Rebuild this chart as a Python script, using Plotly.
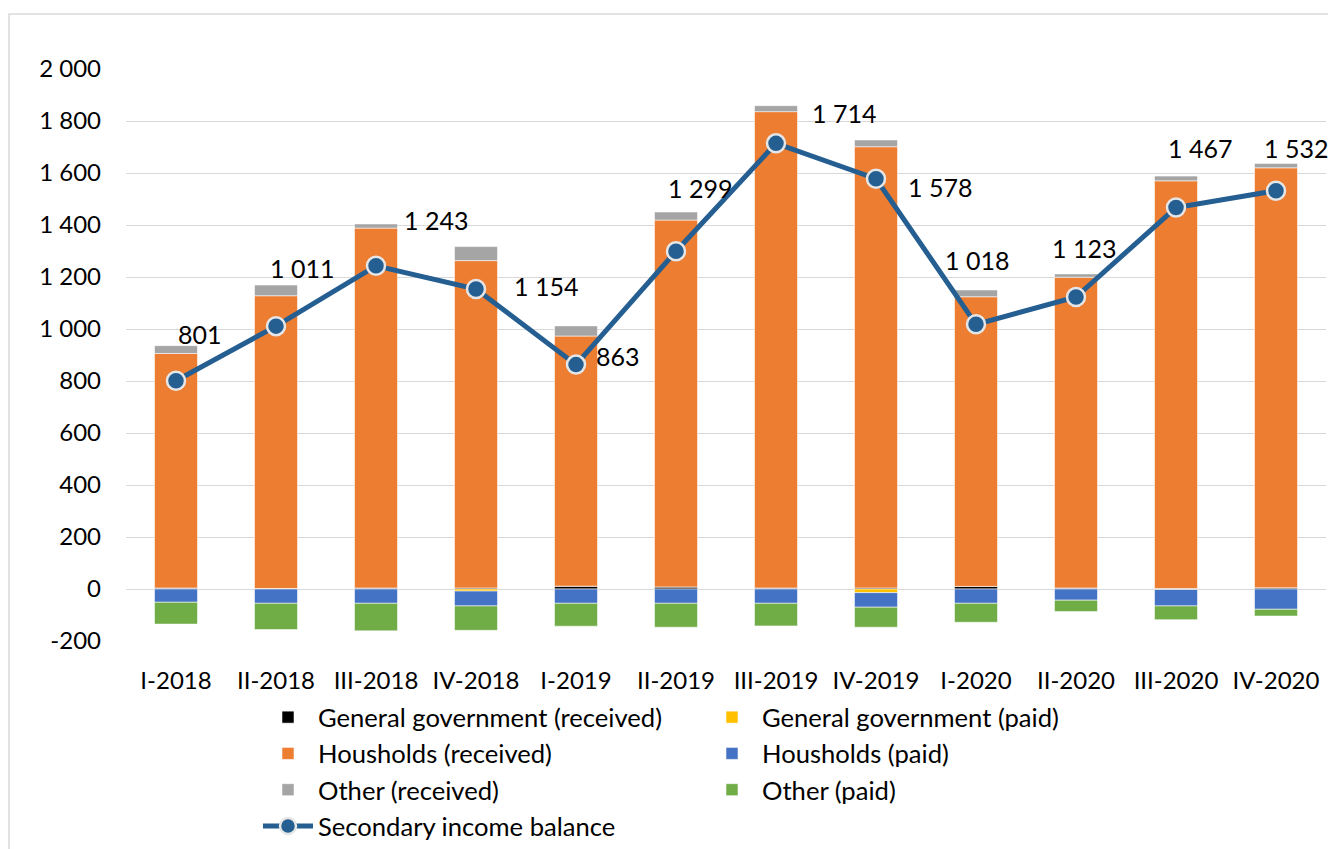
import plotly.graph_objects as go

quarters = ["I-2018", "II-2018", "III-2018", "IV-2018",
            "I-2019", "II-2019", "III-2019", "IV-2019",
            "I-2020", "II-2020", "III-2020", "IV-2020"]

gg_received = [4, 2, 4, 4, 11, 8, 4, 4, 10, 4, 2, 5]
gg_paid = [0, 0, 0, -8, 0, 0, 0, -14, 0, 0, -2, 0]
hh_received = [902, 1126, 1384, 1259, 962, 1411, 1832, 1697, 1114, 1195, 1568, 1615]
hh_paid = [-51, -55, -55, -57, -55, -55, -55, -56, -55, -43, -63, -78]
other_received = [30, 41, 16, 54, 39, 31, 23, 26, 26, 13, 18, 17]
other_paid = [-84, -101, -106, -94, -88, -92, -87, -77, -73, -44, -53, -26]
balance = [801, 1011, 1243, 1154, 863, 1299, 1714, 1578, 1018, 1123, 1467, 1532]
balance_labels = ["801", "1 011", "1 243", "1 154", "863", "1 299",
                  "1 714", "1 578", "1 018", "1 123", "1 467", "1 532"]

y_ticks = [-200, 0, 200, 400, 600, 800, 1000, 1200, 1400, 1600, 1800, 2000]
y_tick_text = ["-200", "0", "200", "400", "600", "800", "1 000",
               "1 200", "1 400", "1 600", "1 800", "2 000"]

# label offsets (px) for balance data labels
label_shift = [(24, -47), (26, -58), (60, -46), (70, -3), (42, -9), (24, -63),
               (68, -30), (64, 8), (1, -64), (8, -49), (24, -60), (20, -43)]

FONT = "Lato"
bar_line = dict(color="rgba(255,255,255,0.55)", width=1)

fig = go.Figure()
series = [
    ("General government (received)", gg_received, "#000000"),
    ("General government (paid)", gg_paid, "#FFC000"),
    ("Housholds (received)", hh_received, "#ED7D31"),
    ("Housholds (paid)", hh_paid, "#4472C4"),
    ("Other (received)", other_received, "#A5A5A5"),
    ("Other (paid)", other_paid, "#70AD47"),
]
for name, vals, col in series:
    fig.add_trace(go.Bar(x=quarters, y=vals, name=name,
                         marker=dict(color=col, line=bar_line)))

fig.add_trace(go.Scatter(
    x=quarters, y=balance, name="Secondary income balance",
    mode="lines+markers",
    line=dict(color="#255E91", width=5),
    marker=dict(size=18, color="#255E91", line=dict(color="#E6E6E6", width=2.5)),
))

for q, v, t, (dx, dy) in zip(quarters, balance, balance_labels, label_shift):
    fig.add_annotation(x=q, y=v, text=t, showarrow=False,
                       xshift=dx, yshift=-dy,
                       font=dict(family=FONT, size=25, color="#000000"))

# page body has an 8px margin; layout coordinates below are offset for it
W, H = 1328, 841
L, T, PW, PH = 118, 61, 1200, 572

# outer chart frame
fig.add_shape(type="rect", xref="paper", yref="paper",
              x0=(1 - L) / PW, x1=(1340 - L) / PW,
              y0=-(860 - T - PH) / PH, y1=(T + PH - 6) / PH,
              line=dict(color="#D9D9D9", width=1.5), layer="below")

fig.update_layout(
    width=W, height=H,
    margin=dict(l=L, r=W - L - PW, t=T, b=H - T - PH, autoexpand=False),
    barmode="relative",
    bargap=0.57,
    plot_bgcolor="white", paper_bgcolor="white",
    font=dict(family=FONT, size=24, color="#000000"),
    legend=dict(orientation="h", x=0.110, xanchor="left",
                yref="container", y=1 - 686 / H, yanchor="top",
                entrywidth=379, entrywidthmode="pixels",
                itemwidth=50, traceorder="normal",
                font=dict(family=FONT, size=25.6, color="#000000")),
    xaxis=dict(range=[-0.5, 11.5], showgrid=False, showline=False, ticks="",
               ticklabelstandoff=23,
               tickfont=dict(family=FONT, size=24)),
    yaxis=dict(range=[-200, 2000], tickvals=y_ticks, ticktext=y_tick_text,
               showgrid=True, gridcolor="#D9D9D9", gridwidth=1.3,
               zeroline=True, zerolinecolor="#D9D9D9", zerolinewidth=1.3,
               showline=False, ticks="", ticklabelstandoff=24,
               tickfont=dict(family=FONT, size=24)),
)

fig.write_html("out.html")
